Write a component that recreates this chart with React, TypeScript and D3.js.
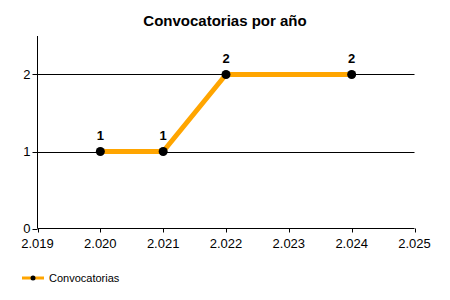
import React from "react";
import * as d3 from "d3";

const years = [2020, 2021, 2022, 2024];
const values = [1, 1, 2, 2];
const xTicks = [2019, 2020, 2021, 2022, 2023, 2024, 2025];
const yTicks = [0, 1, 2];
const title = "Convocatorias por año";
const seriesName = "Convocatorias";

const W = 450, H = 300;
const left = 37.5, right = 414.5, top = 36, bottom = 228.5;
const font = "'Liberation Sans', Arial, sans-serif";
const orange = "#FFA500";

export default function App() {
  const x = d3.scaleLinear().domain([2019, 2025]).range([left, right]);
  const y = d3.scaleLinear().domain([0, 2.5]).range([bottom, top]);
  const line = d3.line<number>().x((_, i) => x(years[i])).y((d) => y(d));
  const fmt = (v: number) => {
    const s = String(v);
    return s.slice(0, 1) + "." + s.slice(1);
  };
  return (
    <svg width={W} height={H} style={{ position: "absolute", left: 0, top: 0, display: "block" }}>
      <rect width={W} height={H} fill="#fff" />
      <text x={W / 2} y={25.5} textAnchor="middle" fontFamily={font} fontWeight="bold" fontSize={15} fill="#000">
        {title}
      </text>
      {yTicks.filter((t) => t > 0).map((t) => (
        <line key={t} x1={left} x2={right} y1={Math.round(y(t)) + 0.5} y2={Math.round(y(t)) + 0.5} stroke="#000" strokeWidth={1} />
      ))}
      <line x1={left} x2={left} y1={top} y2={bottom} stroke="#000" />
      <line x1={left} x2={right} y1={bottom} y2={bottom} stroke="#000" />
      {yTicks.map((t) => (
        <g key={t}>
          <line x1={left - 5} x2={left} y1={Math.round(y(t)) + 0.5} y2={Math.round(y(t)) + 0.5} stroke="#000" />
          <text x={left - 7} y={y(t) + 4.5} textAnchor="end" fontFamily={font} fontSize={13} fill="#000">{t}</text>
        </g>
      ))}
      {xTicks.map((t) => (
        <g key={t}>
          <line x1={Math.round(x(t)) + 0.5} x2={Math.round(x(t)) + 0.5} y1={bottom} y2={bottom + 4} stroke="#000" />
          <text x={x(t)} y={bottom + 19.5} textAnchor="middle" fontFamily={font} fontSize={13} fill="#000">{fmt(t)}</text>
        </g>
      ))}
      <path d={line(values) || ""} fill="none" stroke={orange} strokeWidth={5} strokeLinejoin="round" />
      {values.map((v, i) => (
        <g key={i}>
          <circle cx={x(years[i])} cy={y(v)} r={4.5} fill="#000" />
          <text x={x(years[i])} y={y(v) - 11.5} textAnchor="middle" fontFamily={font} fontWeight="bold" fontSize={13} fill="#000">{v}</text>
        </g>
      ))}
      <line x1={22} x2={44} y1={278} y2={278} stroke={orange} strokeWidth={3} />
      <circle cx={33} cy={278} r={2.5} fill="#000" />
      <text x={49} y={282} fontFamily={font} fontSize={11} fill="#000">{seriesName}</text>
    </svg>
  );
}
